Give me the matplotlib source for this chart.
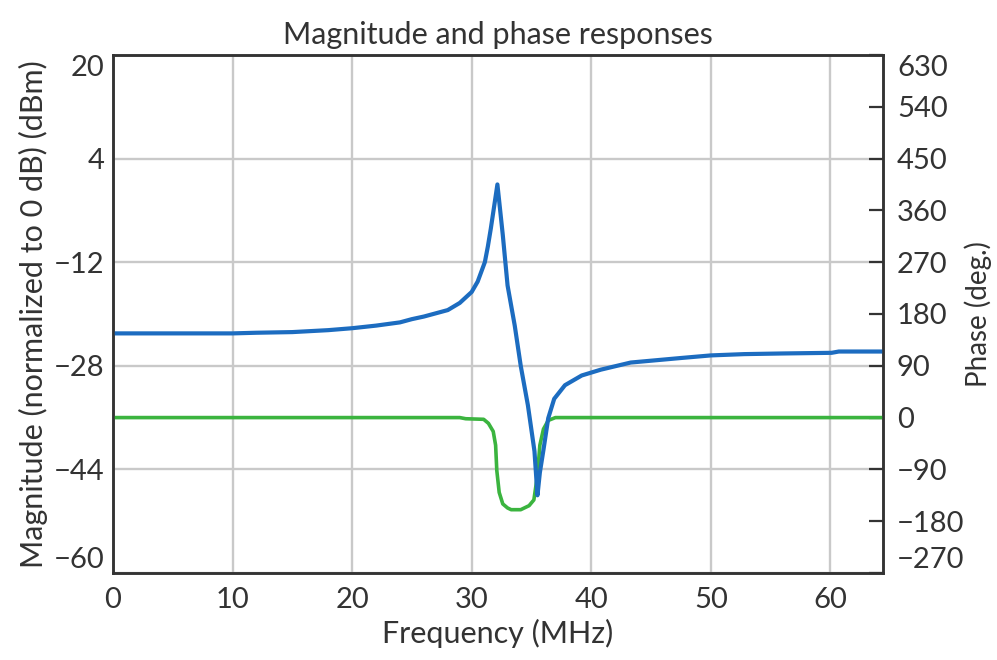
"""Magnitude and phase responses of the resonator."""

import numpy as np
import matplotlib
matplotlib.use("Agg")
import matplotlib.pyplot as plt

# magnitude response (MHz, dB)
mag_freq = [0, 5, 10, 12, 15, 18, 20, 22, 24, 25, 26, 27, 28, 29, 30, 30.5,
            31.1, 31.35, 31.6, 31.9, 32.15, 32.6, 33.0, 33.6, 34.1, 34.7,
            35.25, 35.5, 35.7, 36.0, 36.4, 36.9, 37.8, 39.2, 40.8, 43.3,
            47.5, 50, 52.8, 56, 60.1, 60.7, 64.4]
mag_db = [-23.0, -23.0, -23.0, -22.9, -22.8, -22.5, -22.2, -21.8, -21.3,
          -20.8, -20.4, -19.9, -19.4, -18.3, -16.6, -15.0, -12.0, -9.6, -6.8,
          -3.1, 0.0, -7.8, -15.6, -21.8, -28.0, -34.1, -41.2, -48.0, -44.5,
          -41.0, -36.1, -33.1, -31.0, -29.5, -28.6, -27.5, -26.8, -26.4,
          -26.2, -26.1, -26.0, -25.8, -25.8]

# phase response (MHz, deg)
ph_freq = [0, 29.0, 29.5, 31.0, 31.4, 31.8, 32.0, 32.1, 32.3, 32.6, 33.0,
           33.3, 34.1, 34.8, 35.2, 35.5, 35.7, 36.0, 36.4, 37.0, 64.4]
ph_deg = [0, 0, -2, -3, -10, -24, -48, -92, -130, -150, -157, -160, -160,
          -153, -143, -100, -48, -20, -5, 0, 0]

mag_ticks = [-60, -44, -28, -12, 4, 20]
ph_ticks = list(range(-270, 631, 90))
freq_ticks = list(range(0, 61, 10))

ink = '#333333'
plt.rcParams['font.family'] = ['Lato', 'DejaVu Sans']
plt.rcParams['font.size'] = 21
plt.rcParams['text.color'] = ink
plt.rcParams['axes.labelcolor'] = ink
plt.rcParams['xtick.color'] = ink
plt.rcParams['ytick.color'] = ink

fig = plt.figure(figsize=(9.97, 6.6), dpi=100)
ax1 = fig.add_axes([0.1133, 0.1318, 0.7724, 0.785])
ax2 = ax1.twinx()

ax1.set_xlim(0, 64.4)
ax1.set_ylim(-60, 20)

# grid on the magnitude axes (below), both curves on the twin (above)
ax1.set_xticks(freq_ticks)
ax1.set_yticks(mag_ticks)
ax1.grid(True, color='#c9c9c9', lw=1.7)
ax1.set_axisbelow(True)

ax2.plot(ph_freq, ph_deg, color='#3bb43f', lw=2.6)
ax2.plot(mag_freq, mag_db, color='#1c6cc0', lw=3.0,
         transform=ax1.transData)
ax2.set_ylim(-270, 630)
ax2.set_yticks(ph_ticks)

ax1.tick_params(axis='both', length=0, pad=6)
ax1.tick_params(axis='x', pad=10)
ax2.tick_params(axis='y', direction='in', length=10, width=1.6, pad=10)

for ax in (ax1, ax2):
    for sp in ax.spines.values():
        sp.set_color(ink)
        sp.set_linewidth(1.8)

# keep end labels inside the frame like the original
lbl = ax1.get_yticklabels()
lbl[-1].set_va('top')
lbl[0].set_va('bottom')
lbl = ax2.get_yticklabels()
lbl[-1].set_va('top')
lbl[0].set_va('bottom')

ax1.set_xlabel('Frequency (MHz)', fontsize=22, labelpad=4)
ax1.set_ylabel('Magnitude (normalized to 0 dB) (dBm)', fontsize=22,
               labelpad=4)
ax2.set_ylabel('Phase (deg.)', fontsize=20, labelpad=0)
ax1.set_title('Magnitude and phase responses', fontsize=22, pad=8)

fig.savefig('out.png', dpi=100)
